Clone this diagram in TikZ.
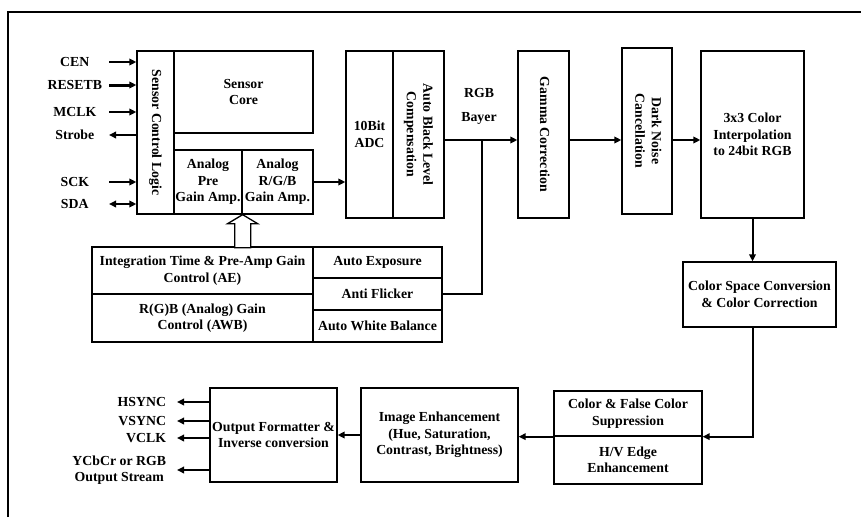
\documentclass[tikz,border=0pt]{standalone}
\usepackage{fontspec}
\setmainfont{Liberation Serif}
\usepackage{tikz}
\usetikzlibrary{arrows.meta}
\newcommand{\vlabel}[1]{\rotatebox{-90}{\begin{tabular}{@{}c@{}}#1\end{tabular}}}

\begin{document}
\begin{tikzpicture}[
    x=1pt, y=-1pt,
    box/.style={rectangle, draw, line width=1.3pt, inner sep=1pt, align=center, font=\fontsize{13.8}{16.5}\selectfont\bfseries},
    lbl/.style={inner sep=0pt, align=center, font=\fontsize{13.8}{16.5}\selectfont\bfseries},
    arrow/.style={-{Triangle[length=7pt,width=6.5pt]}, line width=2pt},
    twoway/.style={{Triangle[length=7pt,width=6.5pt]}-{Triangle[length=7pt,width=6.5pt]}, line width=2pt},
    wire/.style={line width=2pt}
  ]

    \useasboundingbox (0,0) rectangle (861,517);
    \draw[line width=2pt] (8,517) -- (8,12) -- (861,12);

    % sensor part
    \node[box, minimum width=37, minimum height=163] (scl) at (155.5,132.5) {\vlabel{Sensor Control Logic}};
    \node[box, minimum width=139, minimum height=82] (core) at (243.5,92) {Sensor\\Core};
    \node[box, minimum width=68, minimum height=64, inner sep=0pt] (pre) at (208,182) {Analog\\Pre\\Gain Amp.};
    \node[box, minimum width=71, minimum height=64, inner sep=0pt] (rgbamp) at (277.5,182) {Analog\\R/G/B\\Gain Amp.};

    \node[lbl, minimum width=68, anchor=east] (cen) at (109,62) {CEN};
    \node[lbl, minimum width=68, anchor=east] (resetb) at (109,85) {RESETB};
    \node[lbl, minimum width=68, anchor=east] (mclk) at (109,112) {MCLK};
    \node[lbl, minimum width=68, anchor=east] (strobe) at (109,135) {Strobe};
    \node[lbl, minimum width=68, anchor=east] (sck) at (109,182) {SCK};
    \node[lbl, minimum width=68, anchor=east] (sda) at (109,204) {SDA};

    \draw[arrow] (cen.east) -- (cen.east -| scl.west);
    \draw[arrow, line width=3pt] (resetb.east) -- (resetb.east -| scl.west);
    \draw[arrow] (mclk.east) -- (mclk.east -| scl.west);
    \draw[arrow] (strobe.east -| scl.west) -- (strobe.east);
    \draw[arrow] (sck.east) -- (sck.east -| scl.west);
    \draw[twoway] (sda.east) -- (sda.east -| scl.west);

    % control blocks
    \node[box, minimum width=221, minimum height=47] (aectl) at (202.5,270.5) {Integration Time \& Pre-Amp Gain\\Control (AE)};
    \node[box, minimum width=221, minimum height=48] (awbctl) at (202.5,318) {R(G)B (Analog) Gain\\Control (AWB)};
    \node[box, minimum width=129, minimum height=31] (autoexp) at (377.5,262.5) {Auto Exposure};
    \node[box, minimum width=129, minimum height=32] (flicker) at (377.5,294) {Anti Flicker};
    \node[box, minimum width=129, minimum height=32] (awb) at (377.5,326) {Auto White Balance};

    \draw[line width=1.3pt, fill=white] (pre.south east) -- ++(15,9) -- ++(-7,0) -- ++(0,24)
      -- ++(-16,0) -- ++(0,-24) -- ++(-7,0) -- cycle;

    % pipeline
    \node[box, minimum width=47, minimum height=167] (adc) at (369.5,134.5) {10Bit\\ADC};
    \node[box, minimum width=51, minimum height=167] (ablc) at (418.5,134.5) {\vlabel{Auto Black Level\\Compensation}};
    \node[box, minimum width=51, minimum height=167] (gamma) at (543.5,134.5) {\vlabel{Gamma Correction}};
    \node[box, minimum width=50, minimum height=166] (dark) at (647,131) {\vlabel{Dark Noise\\Cancellation}};
    \node[box, minimum width=103, minimum height=167] (interp) at (752.5,134.5) {3x3 Color\\Interpolation\\to 24bit RGB};
    \node[box, minimum width=153, minimum height=65] (csc) at (759.5,294.5) {Color Space Conversion\\\& Color Correction};

    \coordinate (bayer) at (482,140);
    \node[lbl] (bayerlbl) at (479,106) {RGB\\[7.5pt]Bayer};

    \draw[arrow] (rgbamp.east) -- (rgbamp.east -| adc.west);
    \draw[arrow] (ablc.east |- bayer) -- (gamma.west |- bayer);
    \draw[wire] (flicker.east) -| (bayer);
    \draw[arrow] (gamma.east |- bayer) -- (dark.west |- bayer);
    \draw[arrow] (dark.east |- bayer) -- (interp.west |- bayer);
    \draw[arrow] (interp.south) -- (interp.south |- csc.north);

    % output part
    \node[box, minimum width=148, minimum height=45] (cfc) at (628,413.5) {Color \& False Color\\Suppression};
    \node[box, minimum width=148, minimum height=48] (edge) at (628,460) {H/V Edge\\Enhancement};
    \node[box, minimum width=157, minimum height=94] (enh) at (439.5,435) {Image Enhancement\\(Hue, Saturation,\\Contrast, Brightness)};
    \node[box, minimum width=127, minimum height=94, inner sep=0pt] (outf) at (273.5,435) {Output Formatter \&\\Inverse conversion};

    \draw[arrow] (csc.south -| interp.south) |- (cfc.south east);
    \draw[arrow] (cfc.south west) -- (cfc.south west -| enh.east);
    \draw[arrow] (enh.west) -- (outf.east);

    \node[lbl, anchor=east, outer xsep=11pt] (hsync) at (177,402) {HSYNC};
    \node[lbl, anchor=east, outer xsep=11pt] (vsync) at (177,421) {VSYNC};
    \node[lbl, anchor=east, outer xsep=11pt] (vclk) at (177,438) {VCLK};
    \node[lbl, anchor=east, outer xsep=11pt] (ycbcr) at (177,470) {YCbCr or RGB\\Output Stream};

    \draw[arrow] (outf.west |- hsync.east) -- (hsync.east);
    \draw[arrow] (outf.west |- vsync.east) -- (vsync.east);
    \draw[arrow] (outf.west |- vclk.east) -- (vclk.east);
    \draw[arrow] (outf.west |- ycbcr.east) -- (ycbcr.east);

  \end{tikzpicture}
\end{document}
